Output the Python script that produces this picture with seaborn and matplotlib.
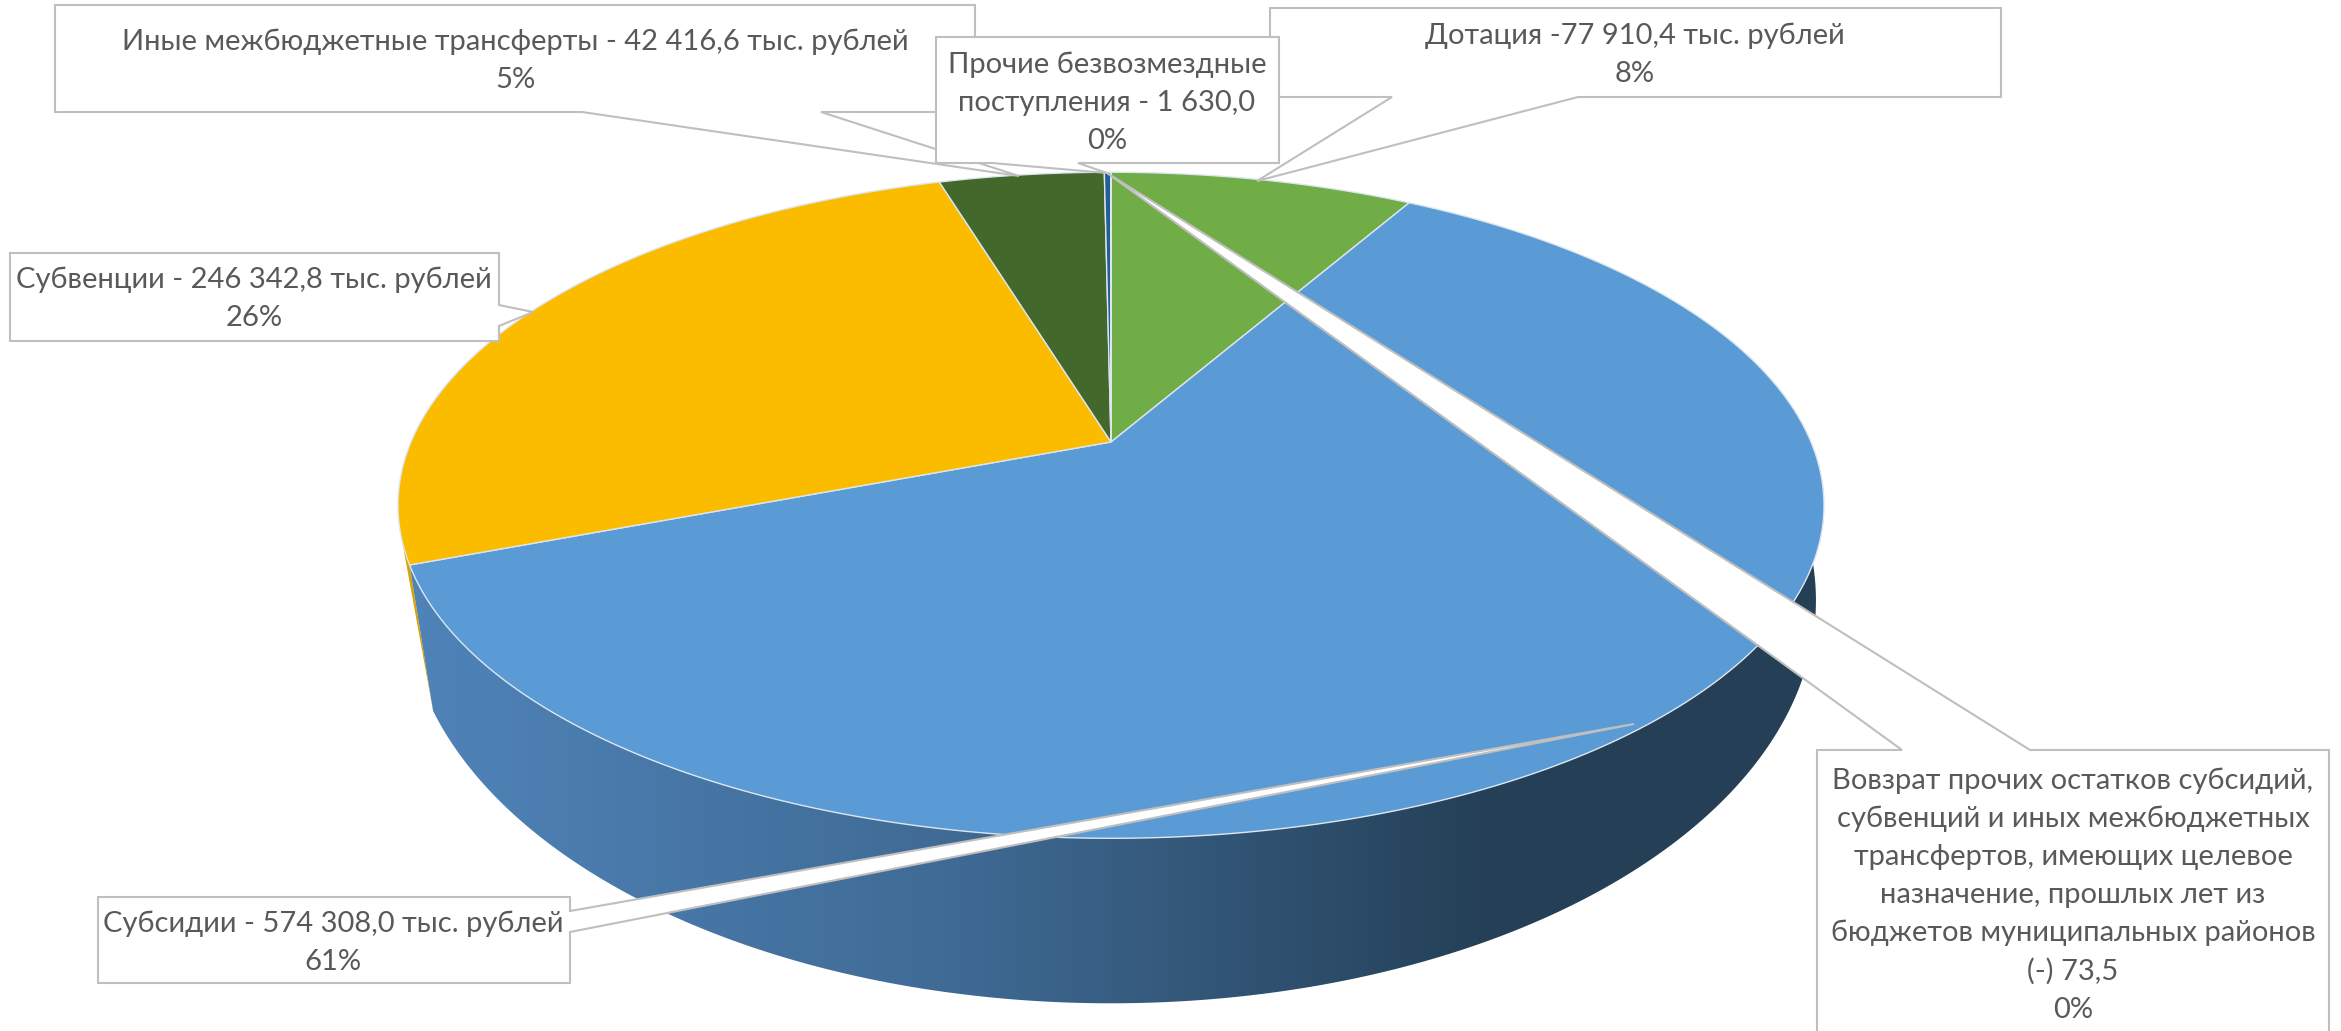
import numpy as np
import matplotlib
matplotlib.use('Agg')
import matplotlib.pyplot as plt
from matplotlib.patches import Polygon
import seaborn as sns

# values, clockwise from 12 o'clock
categories = ['Дотация', 'Субсидии', 'Субвенции', 'Иные межбюджетные трансферты',
              'Прочие безвозмездные поступления', 'Вовзрат прочих остатков']
values = [77910.4, 574308.0, 246342.8, 42416.6, 1630.0, 73.5]
slice_colors = ['#70AD47', '#5B9BD5', '#FBBC00', '#43682B', '#255E91', '#9DC3E6']

label_dotation = ['Дотация -77 910,4 тыс. рублей', '8%']
label_subsidii = ['Субсидии - 574 308,0 тыс. рублей', '61%']
label_subvencii = ['Субвенции - 246 342,8 тыс. рублей', '26%']
label_inye = ['Иные межбюджетные трансферты - 42 416,6 тыс. рублей', '5%']
label_prochie = ['Прочие безвозмездные', 'поступления - 1 630,0', '0%']
label_vozvrat = ['Вовзрат прочих остатков субсидий,', 'субвенций и иных межбюджетных',
                 'трансфертов, имеющих целевое', 'назначение, прошлых лет из',
                 'бюджетов муниципальных районов', '(-) 73,5', '0%']

W, H = 2341, 1031
CX = 1111

# perspective of the top face and of the base: R, S, y0, k
TOP = (700, 321, 442, 0.19)
BASE = (698, 395, 544, 0.14)
BASE_SHIFT = 0.045  # the wall edge leans a bit, so the base corner sits lower


def project(theta, r=1.0, params=TOP):
    R, S, y0, k = params
    X = r * np.sin(theta)
    Y = r * np.cos(theta)
    w = 1 + k * Y
    return np.column_stack([CX + R * X / w, y0 - S * Y / w])


def arc(a, b, params=TOP):
    return project(np.linspace(a, b, 300), params=params)


sns.set_theme(style='white')
plt.rcParams['font.family'] = ['Lato', 'Noto Sans', 'DejaVu Sans']

fig = plt.figure(figsize=(W / 100, H / 100), dpi=100)
ax = fig.add_axes([0, 0, 1, 1])

edges = np.cumsum([0] + values) / sum(values) * 2 * np.pi
corner = edges[2] - BASE_SHIFT

# side wall: a sliver of the yellow slice, then the big blue slice with its shading
yellow_side = np.vstack([arc(edges[2], edges[2] + 0.07), project(np.array([corner]), params=BASE)])
ax.add_patch(Polygon(yellow_side, closed=True, fc='#D9A300', ec='none', zorder=1))

side_cmap = sns.blend_palette(['#4F83B8', '#3F6A94', '#243F56'], as_cmap=True)
xs = np.linspace(0, W, 600)
shade = np.clip((xs - 420) / (1500 - 420), 0, 1)[None, :]
blue_side = np.vstack([arc(1.2, edges[2]), arc(1.2, corner, BASE)[::-1]])
side_patch = Polygon(blue_side, closed=True, fc='none', ec='none', zorder=2)
ax.add_patch(side_patch)
im = ax.imshow(shade, cmap=side_cmap, vmin=0, vmax=1, extent=(0, W, H, 0), aspect='auto', zorder=2)
im.set_clip_path(side_patch)

# top face
for a, b, col in zip(edges[:-1], edges[1:], slice_colors):
    pts = np.vstack([project(np.array([0.0]), 0.0), arc(a, b)])
    ax.add_patch(Polygon(pts, closed=True, fc=col, ec='#DCE6F0', lw=1.0, zorder=3))

# callouts: outline, then text
callouts = [
    (label_inye, [(55, 5), (975, 5), (975, 112), (821, 112), (1019, 176), (582, 112), (55, 112)], 515, 61),
    (label_dotation, [(1270, 8), (2001, 8), (2001, 97), (1578, 97), (1257, 181), (1392, 97), (1270, 97)], 1635, 55),
    (label_prochie, [(936, 37), (1279, 37), (1279, 163), (1078, 163), (1107, 173), (992, 163), (936, 163)], 1107, 103),
    (label_subvencii, [(10, 253), (499, 253), (499, 305), (533, 312), (499, 326), (499, 341), (10, 341)], 254, 299),
    (label_subsidii, [(98, 897), (570, 897), (570, 911), (1634, 724), (570, 932), (570, 983), (98, 983)], 333, 943),
    (label_vozvrat, [(1817, 750), (1902, 750), (1107, 173), (2030, 750), (2329, 750), (2329, 1040), (1817, 1040)], 2073, 895),
]
for lines, outline, tx, ty in callouts:
    ax.add_patch(Polygon(outline, closed=True, fc='white', ec='#BFBFBF', lw=1.5, zorder=4))
    ax.text(tx, ty, '\n'.join(lines), ha='center', va='center', color='#595959',
            fontsize=21, linespacing=1.56, zorder=5)

ax.set_xlim(0, W)
ax.set_ylim(H, 0)
ax.axis('off')
sns.despine(ax=ax, left=True, bottom=True)
fig.savefig('out.png', dpi=100, facecolor='white')
